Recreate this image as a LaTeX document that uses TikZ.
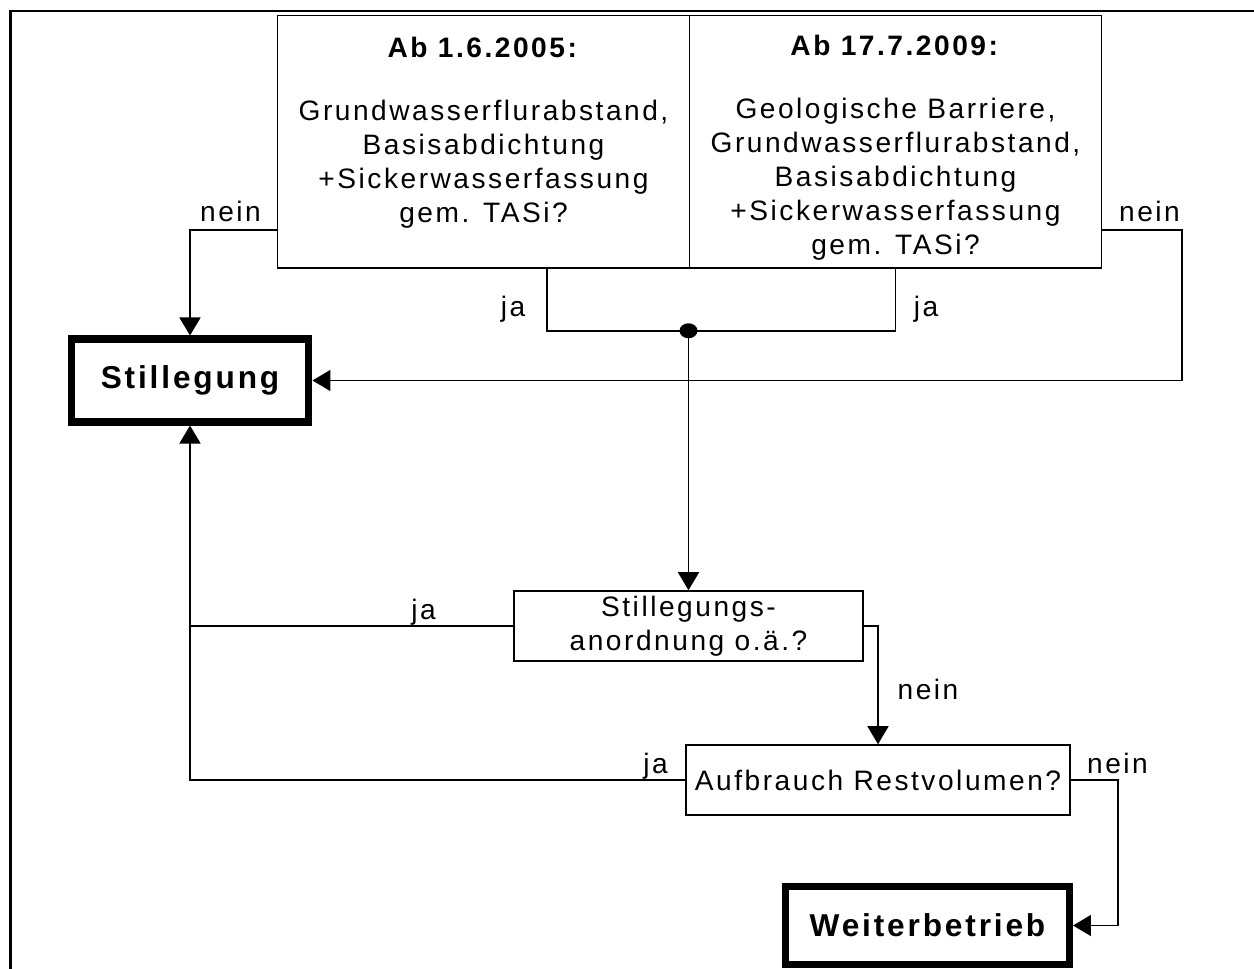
\documentclass[tikz,border=0pt]{standalone}
\usepackage{fontspec}
\setmainfont{Liberation Sans}[LetterSpace=9]
\usetikzlibrary{arrows.meta,calc}

\begin{document}
\begin{tikzpicture}[x={(0.02cm,0cm)}, y={(0cm,-0.02cm)},
    every node/.style={font=\fontsize{16}{19.3}\selectfont, inner sep=0pt},
    frage/.style={draw, line width=0.9pt, align=center},
    ende/.style={draw, line width=4pt, font=\fontsize{18}{22}\selectfont\bfseries},
    linie/.style={line width=0.9pt},
    pfeil/.style={line width=0.9pt, -{Triangle[length=0.36cm,width=0.42cm]}}]
    \useasboundingbox (0,0) rectangle (1254,969);
    \draw[line width=1.7pt] (1254,11) -- (10.5,11) -- (10.5,969);

    \node[frage, minimum width=8.24cm, minimum height=5.05cm] (q1) at (483.5,141.75) {};
    \node[frage, minimum width=8.24cm, minimum height=5.05cm] (q2) at (895.5,141.75) {};
    \node[anchor=north, align=center] (q1t) at (483.5,37)
      {\textbf{Ab 1.6.2005:}\\[16.5pt]Grundwasserflurabstand,\\Basisabdichtung\\+Sickerwasserfassung\\gem. TASi?};
    \node[anchor=north, align=center] (q2t) at (895.5,35)
      {\textbf{Ab 17.7.2009:}\\[16.5pt]Geologische Barriere,\\Grundwasserflurabstand,\\Basisabdichtung\\+Sickerwasserfassung\\gem. TASi?};

    \node[ende, minimum width=4.76cm, minimum height=1.66cm] (still) at (190,380.5) {Stillegung};
    \node[frage, minimum width=6.98cm, minimum height=1.4cm] (anord) at (688.5,626) {Stillegungs-\\anordnung o.ä.?};
    \node[frage, minimum width=7.68cm, minimum height=1.4cm] (rest) at (878,780) {Aufbrauch Restvolumen?};
    \node[ende, minimum width=5.68cm, minimum height=1.56cm] (weiter) at (927.5,925.5) {Weiterbetrieb};

    \coordinate (j) at ($(anord.north |- q1.south)+(0,62)$);

    \draw[pfeil] ($(q1.south west)+(0,-39)$) -| (still.north);
    \draw[pfeil] ($(q2.south east)+(0,-39)$) -- ++(80,0) |- (still.east);
    \draw[linie] ($(q1.south)+(63.5,0)$) |- (j) -| (q2.south);
    \fill (j) ellipse [x radius=0.18cm, y radius=0.15cm];
    \draw[pfeil] (j) -- (anord.north);
    \draw[pfeil] (anord.west) -| (still.south);
    \draw[linie] (rest.west) -| (anord.west -| still.south);
    \draw[pfeil] (anord.east) -| (rest.north);
    \draw[pfeil] (rest.east) -- ++(47,0) |- (weiter.east);

    \node[anchor=base] (n1) at (230.5,222) {nein};
    \node[anchor=base] (n2) at (1149.5,222) {nein};
    \node[anchor=base] (j1) at (513,317) {ja};
    \node[anchor=base] (j2) at (926,317) {ja};
    \node[anchor=base] (j3) at (423.5,619) {ja};
    \node[anchor=base] (n3) at (928,699) {nein};
    \node[anchor=base] (j4) at (655.5,773) {ja};
    \node[anchor=base] (n4) at (1117.5,773) {nein};
  \end{tikzpicture}
\end{document}
